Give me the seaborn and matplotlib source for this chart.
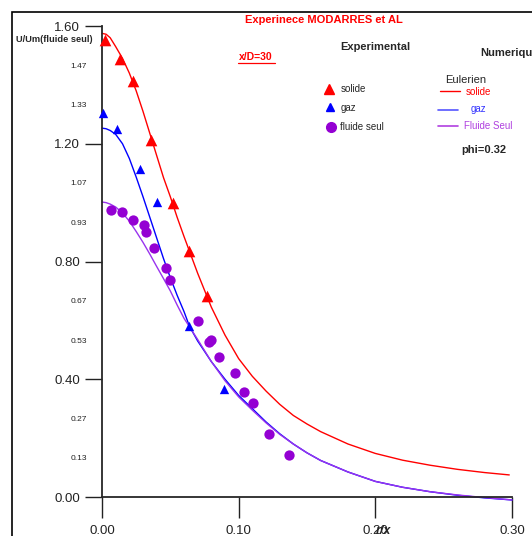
import matplotlib
matplotlib.use("Agg")
import matplotlib.pyplot as plt
import seaborn as sns
import pandas as pd
from matplotlib.patches import Rectangle
from matplotlib.lines import Line2D

sns.set_style("white")
plt.rcParams['font.family'] = ['Liberation Sans', 'DejaVu Sans']

# Experimental data
solide_x = [0.002, 0.013, 0.023, 0.036, 0.052, 0.0635, 0.077]
solide_y = [1.552, 1.488, 1.413, 1.213, 0.999, 0.836, 0.683]
gaz_x = [0.001, 0.011, 0.028, 0.040, 0.064, 0.089]
gaz_y = [1.304, 1.250, 1.114, 1.002, 0.581, 0.367]
fluide_x = [0.0066, 0.0148, 0.0229, 0.0309, 0.0321, 0.0377, 0.047, 0.0496, 0.070,
            0.0786, 0.080, 0.0856, 0.0976, 0.1036, 0.1107, 0.122, 0.137]
fluide_y = [0.975, 0.969, 0.940, 0.924, 0.899, 0.847, 0.777, 0.737, 0.598,
            0.527, 0.532, 0.474, 0.422, 0.358, 0.318, 0.214, 0.143]

# Numerical (Eulerien) curves
red_x = [0.000, 0.003, 0.006, 0.010, 0.015, 0.020, 0.025, 0.030, 0.035, 0.040, 0.045, 0.050,
         0.055, 0.060, 0.070, 0.080, 0.090, 0.100, 0.110, 0.120, 0.130, 0.140, 0.150,
         0.160, 0.180, 0.200, 0.220, 0.240, 0.260, 0.280, 0.298]
red_y = [1.575, 1.572, 1.56, 1.53, 1.49, 1.44, 1.38, 1.31, 1.235, 1.16, 1.085, 1.02,
         0.95, 0.885, 0.76, 0.645, 0.55, 0.47, 0.41, 0.36, 0.315, 0.277, 0.248,
         0.222, 0.18, 0.148, 0.125, 0.108, 0.094, 0.083, 0.075]
blue_x = [0.000, 0.003, 0.006, 0.010, 0.015, 0.020, 0.025, 0.030, 0.035, 0.040, 0.045, 0.050,
          0.055, 0.060, 0.064, 0.070, 0.080, 0.090, 0.100, 0.110, 0.120, 0.130, 0.140,
          0.150, 0.160, 0.180, 0.200, 0.220, 0.240, 0.260, 0.280, 0.300]
blue_y = [1.253, 1.251, 1.245, 1.232, 1.20, 1.15, 1.087, 1.02, 0.95, 0.88, 0.81, 0.745,
          0.685, 0.63, 0.58, 0.53, 0.46, 0.40, 0.345, 0.30, 0.255, 0.215, 0.18,
          0.15, 0.124, 0.085, 0.053, 0.033, 0.018, 0.006, -0.003, -0.01]
purple_x = [0.000, 0.003, 0.006, 0.010, 0.015, 0.020, 0.025, 0.030, 0.035, 0.040, 0.045, 0.050,
            0.055, 0.060, 0.070, 0.080, 0.090, 0.100, 0.110, 0.120, 0.130, 0.140,
            0.150, 0.160, 0.180, 0.200, 0.220, 0.240, 0.260, 0.280, 0.300]
purple_y = [1.002, 1.0, 0.995, 0.985, 0.965, 0.937, 0.902, 0.865, 0.825, 0.783, 0.742, 0.70,
            0.652, 0.607, 0.535, 0.46, 0.395, 0.34, 0.295, 0.252, 0.213, 0.18,
            0.15, 0.124, 0.085, 0.053, 0.033, 0.018, 0.007, -0.002, -0.01]

major_y = [0.00, 0.40, 0.80, 1.20, 1.60]
minor_y = [0.1333, 0.2667, 0.5333, 0.6667, 0.9333, 1.0667, 1.3333, 1.4667]
major_x = [0.00, 0.10, 0.20, 0.30]
minor_x = [0.05, 0.15, 0.25]

RED = "#ff0000"
BLUE = "#0000ff"
PURP_M = "#9400d3"
PURP_L = "#9933ee"
PURP_LEG = "#b040e0"

fig = plt.figure(figsize=(5.32, 5.36), dpi=100)
ax = fig.add_axes([102/532, 1-497/536, (512-102)/532, (497-26)/536])

for xs, ys, c in [(red_x, red_y, RED), (blue_x, blue_y, BLUE), (purple_x, purple_y, PURP_L)]:
    sns.lineplot(x=xs, y=ys, ax=ax, color=c, lw=1.0, sort=False, estimator=None)
for l in ax.lines:
    l.set_clip_on(False)

sns.scatterplot(x=solide_x, y=solide_y, ax=ax, marker="^", color=RED, s=70, linewidth=0, zorder=5)
sns.scatterplot(x=gaz_x, y=gaz_y, ax=ax, marker="^", color=BLUE, s=45, linewidth=0, zorder=5)
sns.scatterplot(x=fluide_x, y=fluide_y, ax=ax, marker="o", color=PURP_M, s=55, linewidth=0, zorder=5)
for c in ax.collections:
    c.set_clip_on(False)

ax.set_xlim(0, 0.30)
ax.set_ylim(0, 1.60)
sns.despine(ax=ax)
ax.spines['left'].set_linewidth(1.3)
ax.spines['bottom'].set_linewidth(1.3)

ax.set_yticks(major_y)
ax.set_yticklabels([f"{v:.2f}" for v in major_y], fontsize=9.5)
ax.set_yticks(minor_y, minor=True)
ax.set_yticklabels([f"{v:.2f}" for v in minor_y], minor=True, fontsize=6)
ax.set_xticks(major_x)
ax.set_xticklabels([f"{v:.2f}" for v in major_x], fontsize=9.5)
ax.set_xticks(minor_x, minor=True)
ax.tick_params(axis='y', which='major', length=12, width=1, direction='out', pad=4, colors='#222222')
ax.tick_params(axis='y', which='minor', length=5, width=1, direction='out', pad=6, colors='#222222')
ax.tick_params(axis='x', which='major', length=15, width=1, direction='out', pad=5, colors='#222222')
ax.tick_params(axis='x', which='minor', length=8, width=1, direction='out')
ax.tick_params(left=True, bottom=True)
ax.set_xlabel("")
ax.set_ylabel("")

# Frame
fig.patches.append(Rectangle((12/532, -0.05), 1.2, 1-12/536+0.05, transform=fig.transFigure,
                             fill=False, edgecolor='black', lw=1.2, zorder=0))

def ft(px, py, s, **kw):
    fig.text(px/532, 1-py/536, s, **kw)

ft(54, 40, "U/Um(fluide seul)", fontsize=6.7, fontweight='bold', ha='center', va='center')
ft(324, 20, "Experinece MODARRES et AL", fontsize=8, fontweight='bold', color=RED, ha='center', va='center')
ft(256, 57, "x/D=30", fontsize=7.5, fontweight='bold', color=RED, ha='center', va='center')
fig.add_artist(Line2D([238/532, 275/532], [1-63/536, 1-63/536], color=RED, lw=0.9))
ft(375, 47, "Experimental", fontsize=8, fontweight='bold', ha='center', va='center')
ft(480, 53, "Numerique", fontsize=8, fontweight='bold', ha='left', va='center')

# Experimental legend
fig.add_artist(Line2D([329/532], [1-89/536], marker='^', color=RED, ms=7, lw=0))
ft(341, 89, "solide", fontsize=7, ha='left', va='center')
fig.add_artist(Line2D([330/532], [1-107/536], marker='^', color=BLUE, ms=6, lw=0))
ft(341, 108, "gaz", fontsize=7, ha='left', va='center')
fig.add_artist(Line2D([331/532], [1-127/536], marker='o', color=PURP_M, ms=7, lw=0))
ft(340, 127, "fluide seul", fontsize=7, ha='left', va='center')

# Numerical legend
ft(445, 80, "Eulerien", fontsize=8, ha='left', va='center')
fig.add_artist(Line2D([440/532, 460/532], [1-91/536]*2, color=RED, lw=1))
ft(466, 92, "solide", fontsize=7, color=RED, ha='left', va='center')
fig.add_artist(Line2D([438/532, 458/532], [1-110/536]*2, color="#5555ff", lw=1.2))
ft(471, 109, "gaz", fontsize=7, color="#3333ff", ha='left', va='center')
fig.add_artist(Line2D([438/532, 458/532], [1-126/536]*2, color=PURP_LEG, lw=1.2))
ft(464, 126, "Fluide Seul", fontsize=7, color=PURP_LEG, ha='left', va='center')
ft(484, 150, "phi=0.32", fontsize=8, fontweight='bold', ha='center', va='center')

ft(383, 531, "r/x", fontsize=9, fontweight='bold', style='italic', ha='center', va='center')

fig.savefig("out.png", dpi=100)
